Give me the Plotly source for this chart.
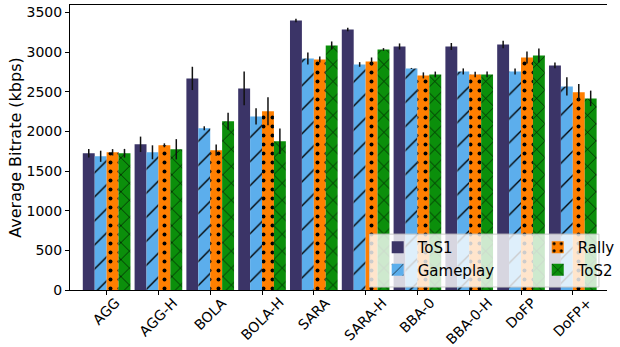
import plotly.graph_objects as go

categories = ["AGG", "AGG-H", "BOLA", "BOLA-H", "SARA", "SARA-H", "BBA-0", "BBA-0-H", "DoFP", "DoFP+"]

tos1 = [1725, 1838, 2669, 2543, 3399, 3286, 3072, 3072, 3097, 2833]
gameplay = [1687, 1737, 2040, 2190, 2921, 2845, 2795, 2757, 2757, 2568]
rally = [1737, 1825, 1763, 2254, 2908, 2883, 2707, 2719, 2933, 2493]
tos2 = [1725, 1775, 2128, 1876, 3085, 3034, 2719, 2719, 2959, 2417]

tos1_err = [55, 97, 147, 214, 21, 21, 38, 44, 46, 36]
gameplay_err = [70, 88, 25, 103, 75, 29, 6, 38, 38, 115]
rally_err = [40, 25, 71, 176, 38, 50, 38, 34, 75, 107]
tos2_err = [55, 128, 107, 160, 50, 17, 36, 36, 88, 98]

series = [
    ("ToS1", tos1, tos1_err, "#3b3467", "", "legend"),
    ("Gameplay", gameplay, gameplay_err, "#5caeec", "/", "legend"),
    ("Rally", rally, rally_err, "#ff7f00", ".", "legend2"),
    ("ToS2", tos2, tos2_err, "#0b8f0b", "x", "legend2"),
]
pat_size = {"": 8, "/": 17, ".": 9, "x": 12}
pat_sol = {"": 0.2, "/": 0.08, ".": 0.15, "x": 0.1}

fig = go.Figure()
for name, vals, errs, color, shape, leg in series:
    fig.add_trace(go.Bar(
        name=name, x=categories, y=vals, legend=leg,
        marker=dict(color=color, line=dict(width=0),
                    pattern=dict(shape=shape, fgcolor="black", bgcolor=color,
                                 size=pat_size[shape], solidity=pat_sol[shape],
                                 fillmode="replace")),
        error_y=dict(type="data", array=errs, color="#111", thickness=1.5, width=0),
    ))

# rotated category labels, centred under each tick
for c in categories:
    fig.add_annotation(x=c, xref="x", y=0, yref="paper", yanchor="top", xanchor="center",
                       yshift=-2, text=c, textangle=-45, showarrow=False,
                       font=dict(size=14, color="black"))

# common legend frame
fig.add_shape(type="rect", xref="paper", yref="paper", x0=0.558, x1=0.985, y0=0.0105, y1=0.196,
              fillcolor="rgba(255,255,255,0.8)", line=dict(color="#cccccc", width=1), layer="above")

leg_common = dict(bgcolor="rgba(0,0,0,0)", borderwidth=0, font=dict(size=15),
                  yanchor="top", y=0.207, xanchor="left", tracegroupgap=0)

fig.update_layout(
    width=620, height=347,
    margin=dict(l=70, r=0, t=5, b=57),
    barmode="group", bargap=0.08, bargroupgap=0,
    plot_bgcolor="white", paper_bgcolor="white",
    font=dict(family="DejaVu Sans", size=14, color="black"),
    legend=dict(x=0.573, **leg_common),
    legend2=dict(x=0.871, **leg_common),
    xaxis=dict(
        range=[-0.707, 9.66], showline=True, linecolor="black", linewidth=1,
        mirror=True, ticks="outside", ticklen=4, tickcolor="black",
        showticklabels=False, showgrid=False, automargin=False,
    ),
    yaxis=dict(
        range=[0, 3595], showline=True, linecolor="black", linewidth=1,
        ticks="outside", ticklen=4, tickcolor="black", dtick=500,
        showgrid=False, zeroline=False, tickfont=dict(size=14), automargin=False,
        title=dict(text="Average Bitrate (kbps)", font=dict(size=16), standoff=0),
    ),
)

fig.write_html("out.html", config={"displayModeBar": False},
               post_script="document.body.style.margin='0';document.body.style.overflow='hidden';")
